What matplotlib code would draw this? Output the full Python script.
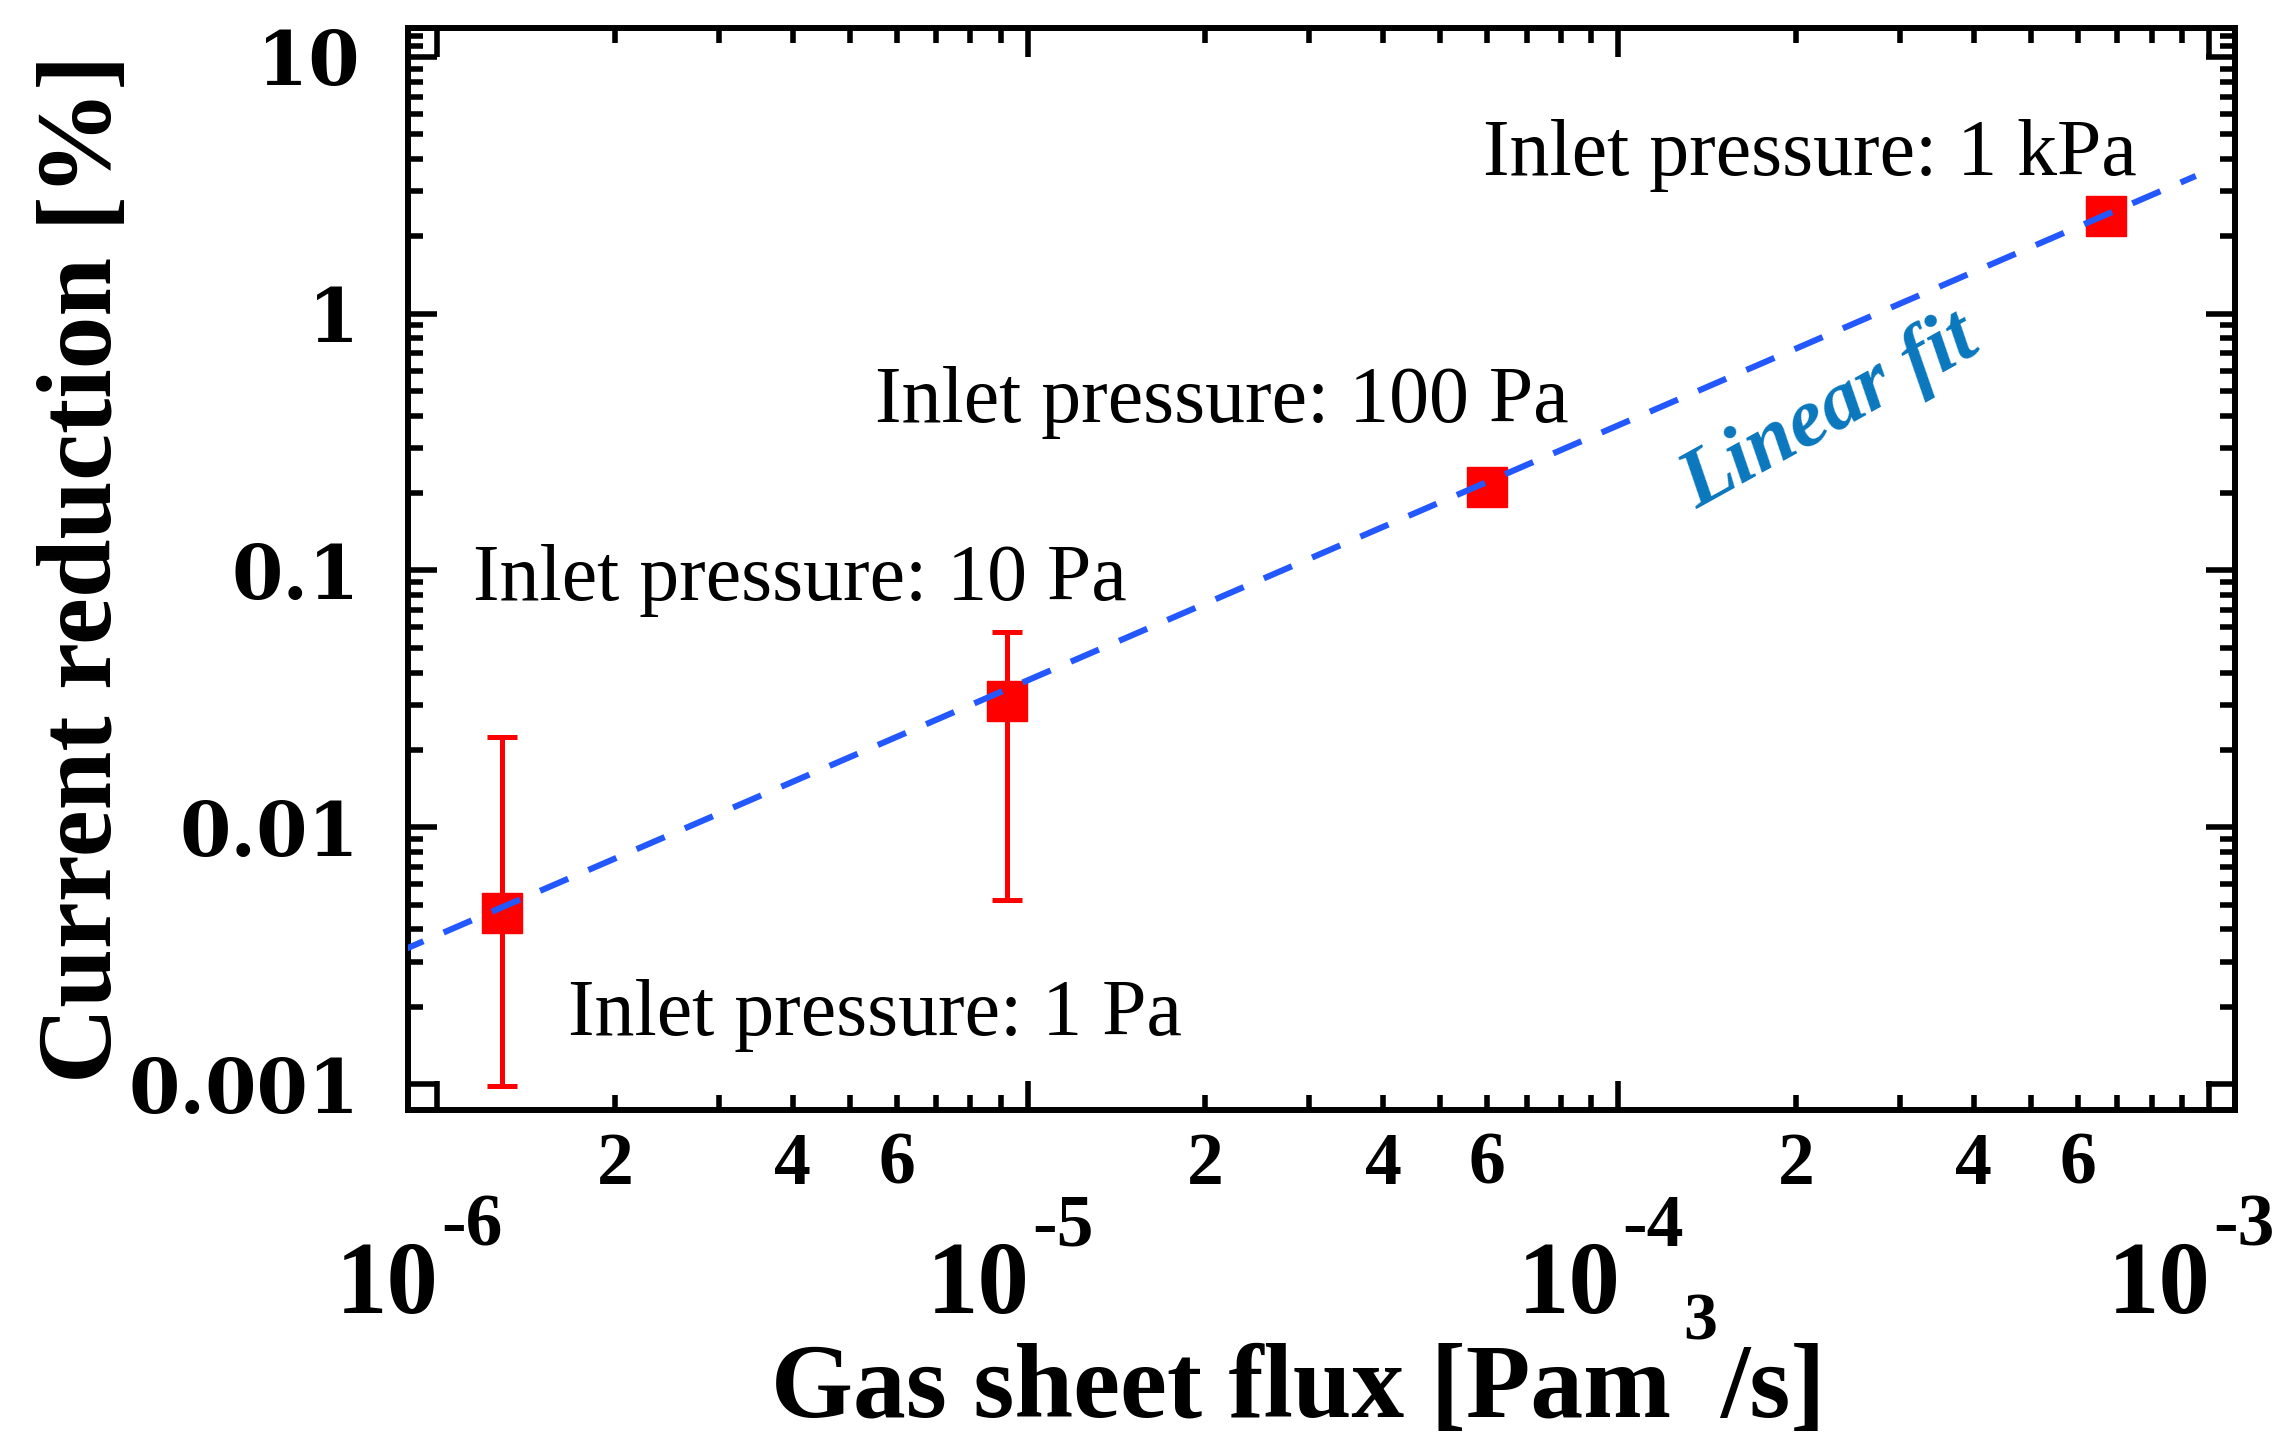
import numpy as np
import matplotlib
matplotlib.use("Agg")
import matplotlib.pyplot as plt
from matplotlib.ticker import FixedLocator, FixedFormatter, NullFormatter

# Gas sheet flux [Pa m^3/s] and measured current reduction [%]
flux = [1.287e-6, 9.21e-6, 5.99e-5, 6.69e-4]
reduction = [0.00464, 0.0311, 0.2115, 2.388]
reduction_low = [0.00098, 0.00521, 0.200, 2.388]
reduction_high = [0.0225, 0.0574, 0.222, 2.388]

inlet_labels = ["Inlet pressure: 1 Pa", "Inlet pressure: 10 Pa",
                "Inlet pressure: 100 Pa", "Inlet pressure: 1 kPa"]

# Power-law fit (straight line in log-log space)
fit_slope = 0.993
fit_log_intercept = 3.537
fit_range = [8.5e-7, 9.5e-4]

x_major = [1e-6, 1e-5, 1e-4, 1e-3]
x_major_exponents = ["-6", "-5", "-4", "-3"]
x_minor_mult = [2, 3, 4, 5, 6, 7, 8, 9]
x_minor_shown = ["2", "", "4", "", "6", "", "", ""]
y_major = [0.001, 0.01, 0.1, 1, 10]
y_major_labels = ["0.001", "0.01", "0.1", "1", "10"]

W, H = 2295, 1436
fig = plt.figure(figsize=(W / 100, H / 100), dpi=100)


def fx(x):
    return x / W


def fy(y):
    return 1 - y / H


ax = fig.add_axes([fx(408), fy(1109.5), (2235 - 408) / W, (1109.5 - 27.5) / H])
ax.set_xscale("log")
ax.set_yscale("log")
ax.set_xlim(8.93e-7, 1.107e-3)
ax.set_ylim(7.96e-4, 13.0)

serif = "Liberation Serif"

# data with asymmetric error bars
yerr = [np.array(reduction) - np.array(reduction_low),
        np.array(reduction_high) - np.array(reduction)]
ax.errorbar(flux, reduction, yerr=yerr, fmt="s", color="#ff0000",
            ecolor="#ff0000", mfc="#ff0000", mec="#ff0000", markersize=29,
            elinewidth=3.6, capsize=10.5, capthick=3.6, zorder=3)

# fit line
xf = np.array(fit_range)
yf = 10 ** (fit_log_intercept + fit_slope * np.log10(xf))
ax.plot(xf, yf, color="#2458ff", lw=4.4, dashes=(5.0, 3.6), zorder=4)

# frame and ticks
for sp in ax.spines.values():
    sp.set_linewidth(4.3)
ax.tick_params(which="both", direction="in", top=True, right=True,
               width=4.0, color="black")
ax.tick_params(which="major", length=21)
ax.tick_params(which="minor", length=11)

# y axis
ax.yaxis.set_major_locator(FixedLocator(y_major))
ax.yaxis.set_major_formatter(FixedFormatter(y_major_labels))
y_minor = [m * d for d in y_major[:-1] for m in range(2, 10)] + [11, 12]
ax.yaxis.set_minor_locator(FixedLocator(y_minor))
ax.yaxis.set_minor_formatter(NullFormatter())
ax.tick_params(axis="y", which="major", pad=35)
for lab in ax.get_yticklabels():
    lab.set_fontfamily("DejaVu Serif")
    lab.set_fontweight("bold")
    lab.set_fontsize(53)

# x axis: minor labels 2,4,6 under ticks, decade labels drawn below them
ax.xaxis.set_major_locator(FixedLocator(x_major))
ax.xaxis.set_major_formatter(NullFormatter())
x_minor = [m * d for d in x_major[:-1] for m in x_minor_mult]
x_minor_text = [s for d in x_major[:-1] for s in x_minor_shown]
ax.xaxis.set_minor_locator(FixedLocator(x_minor))
ax.xaxis.set_minor_formatter(FixedFormatter(x_minor_text))
ax.tick_params(axis="x", which="minor", pad=16)
for lab in ax.get_xticklabels(minor=True):
    lab.set_fontfamily(serif)
    lab.set_fontweight("bold")
    lab.set_fontsize(53)

for val, ex in zip(x_major, x_major_exponents):
    ax.annotate("10", xy=(val, 0), xycoords=("data", "axes fraction"),
                xytext=(1.5, -204 * 0.72), textcoords="offset points",
                ha="right", va="baseline", fontsize=74, fontweight="bold",
                family=serif, annotation_clip=False)
    ax.annotate(ex, xy=(val, 0), xycoords=("data", "axes fraction"),
                xytext=(3, -136 * 0.72), textcoords="offset points",
                ha="left", va="baseline", fontsize=53, fontweight="bold",
                family=serif, annotation_clip=False)

# axis titles
ax.set_ylabel("Current reduction [%]", fontsize=76, fontweight="bold",
              family=serif)
ax.yaxis.set_label_coords(-0.150, 0.5)
fig.text(fx(771), fy(1417), "Gas sheet flux [Pam", fontsize=76,
         fontweight="bold", family=serif, ha="left", va="baseline")
fig.text(fx(1683), fy(1340), "3", fontsize=49, fontweight="bold",
         family=serif, ha="left", va="baseline")
fig.text(fx(1720), fy(1417), "/s]", fontsize=76, fontweight="bold",
         family=serif, ha="left", va="baseline")

# annotations for each inlet pressure
label_px = [(568, 1035), (473, 600), (875, 422), (1483, 175)]
for (px, py), txt in zip(label_px, inlet_labels):
    fig.text(fx(px), fy(py), txt, fontsize=57.5, family=serif,
             ha="left", va="baseline")

ax.text(1830 / W, fy(413), "Linear fit", transform=fig.transFigure,
        fontsize=60, fontweight="bold", fontstyle="italic", family=serif,
        color="#0a77bd", rotation=29, rotation_mode="anchor",
        ha="center", va="center")

fig.savefig("out.png", dpi=100)
